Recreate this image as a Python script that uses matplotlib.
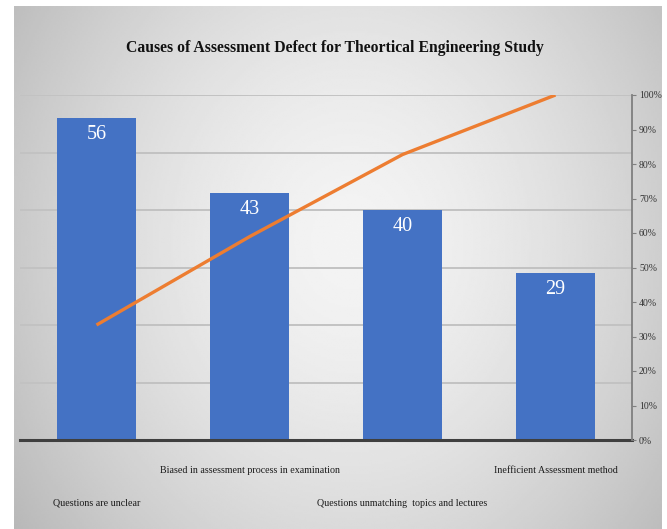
import matplotlib
matplotlib.use('Agg')
import matplotlib.pyplot as plt
import matplotlib.transforms as mtransforms
import numpy as np

# ---- data ----
categories = ["Questions are unclear",
              "Biased in assessment process in examination",
              "Questions unmatching  topics and lectures",
              "Inefficient Assessment method"]
counts = [56, 43, 40, 29]
cum_pct = list(np.cumsum(counts) / np.sum(counts) * 100)
left_ticks = [0, 10, 20, 30, 40, 50, 60]
right_ticks = [0, 10, 20, 30, 40, 50, 60, 70, 80, 90, 100]
right_labels = [f"{t}%" for t in right_ticks]
title = "Causes of Assessment Defect for Theortical Engineering Study"

FONT = ['Liberation Serif', 'DejaVu Serif']
W, H = 667, 529

fig = plt.figure(figsize=(W / 100, H / 100), dpi=100)
fig.patch.set_facecolor('white')

# ---- gradient background ----
bg = fig.add_axes([14 / W, 0, (662 - 14) / W, 1 - 6 / H])
ny, nx = 260, 320
yy, xx = np.mgrid[0:1:ny * 1j, 0:1:nx * 1j]
r = np.sqrt(((xx - 0.52) / 0.62) ** 2 + ((yy - 0.45) / 0.9) ** 2)
val = 0.955 - 0.22 * np.clip(r, 0, 1.2) ** 1.6
bg.imshow(val, cmap='gray', vmin=0, vmax=1, aspect='auto',
          extent=[0, 1, 0, 1], interpolation='bilinear')
bg.set_axis_off()

# ---- main axes ----
ax = fig.add_axes([20 / W, 1 - 440 / H, 612 / W, 345 / H])
ax.set_facecolor('none')
x = np.arange(len(categories))
bars = ax.bar(x, counts, width=0.52, color='#4472C4', zorder=2)
ax.set_xlim(-0.5, len(categories) - 0.5)
ax.set_ylim(left_ticks[0], left_ticks[-1])
ax.set_yticks(left_ticks)
ax.yaxis.grid(True, color='#c2c2c2', linewidth=1.4, zorder=0)
ax.set_axisbelow(True)
for s in ['top', 'left', 'right']:
    ax.spines[s].set_visible(False)
ax.spines['bottom'].set_color('#3f3f3f')
ax.spines['bottom'].set_linewidth(2.2)
ax.spines['bottom'].set_zorder(5)

# bar value labels
for xi, v in zip(x, counts):
    ax.annotate(str(v), (xi, v), xytext=(0, -5), textcoords='offset points',
                ha='center', va='top', color='white', fontsize=14.5,
                family=FONT, zorder=6)

# staggered category labels
trans = mtransforms.blended_transform_factory(ax.transData, ax.transAxes)
for i, (xi, lab) in enumerate(zip(x, categories)):
    yoff = -0.183 if i % 2 == 0 else -0.088
    ax.text(xi, yoff, lab, transform=trans, ha='center', va='center',
            fontsize=7.2, family=FONT, color='#1a1a1a')

# ---- secondary axis: cumulative percent ----
ax2 = ax.twinx()
ax2.plot(x, cum_pct, color='#ED7D31', linewidth=2.4, zorder=4,
         solid_capstyle='butt')
ax2.set_ylim(right_ticks[0], right_ticks[-1])
ax2.set_yticks(right_ticks)
ax2.set_yticklabels(right_labels, family=FONT, fontsize=7, color='#333333')
ax2.tick_params(axis='y', direction='out', length=3, width=0.8,
                color='#7f7f7f', pad=2)
for s in ['top', 'left', 'bottom']:
    ax2.spines[s].set_visible(False)
ax2.spines['right'].set_color('#7f7f7f')
ax2.spines['right'].set_linewidth(1.3)

# hide primary ticks (after twinx, which re-enables them)
ax.tick_params(axis='y', left=False, right=False, labelleft=False,
               labelright=False)
ax.tick_params(axis='x', bottom=False, labelbottom=False)

# ---- title ----
fig.text(335 / W, 1 - 48 / H, title, ha='center', va='center',
         fontsize=11.3, fontweight='bold', family=FONT, color='#111111')

fig.savefig('out.png', dpi=100)
